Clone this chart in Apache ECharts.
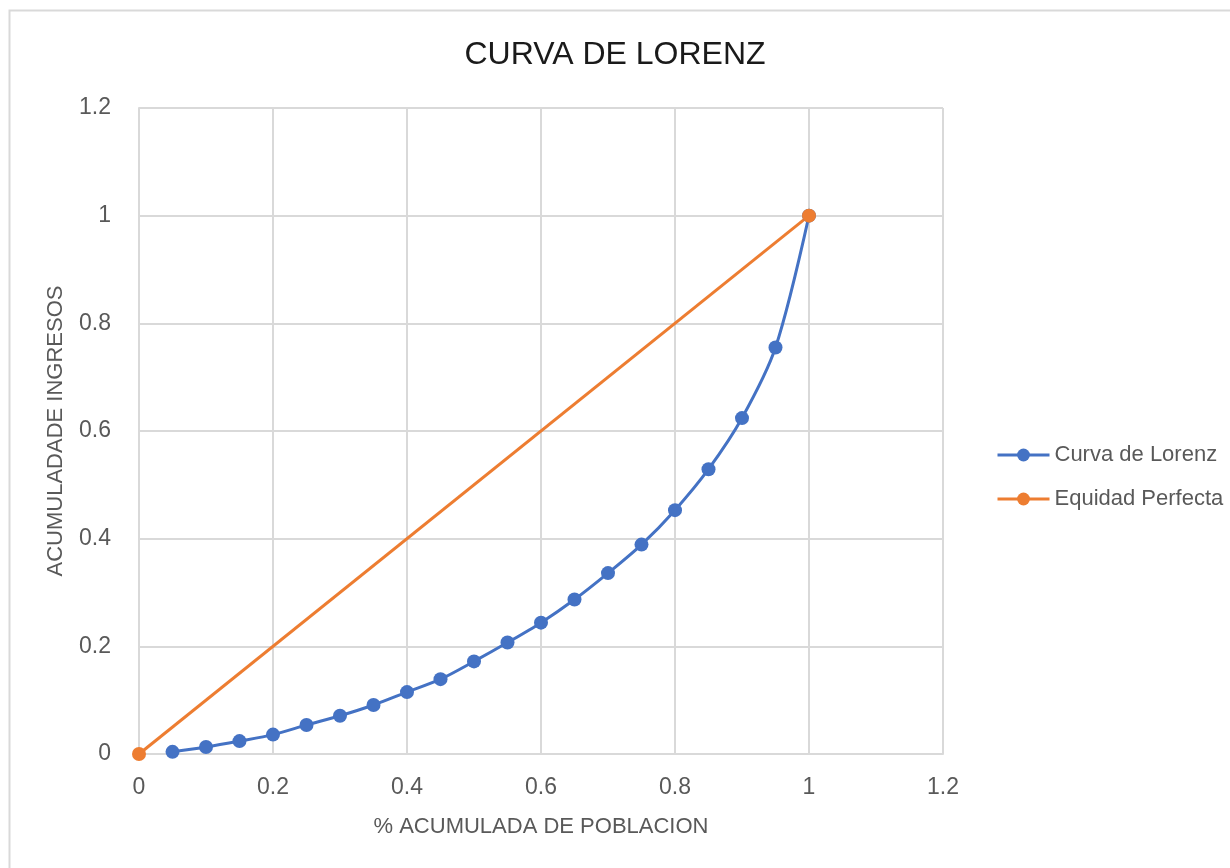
<!DOCTYPE html>
<html>
<head>
<meta charset="utf-8">
<script src="https://cdn.jsdelivr.net/npm/echarts@6/dist/echarts.min.js"></script>
<style>
html,body{margin:0;padding:0;background:#fff;}
#chart{width:1230px;height:868px;}
</style>
</head>
<body>
<div id="chart"></div>
<script>
const titleText = "CURVA DE LORENZ";
const xAxisName = "% ACUMULADA DE POBLACION";
const yAxisName = "ACUMULADADE INGRESOS";
const lorenzName = "Curva de Lorenz";
const equityName = "Equidad Perfecta";
const lorenzX = [0.05,0.10,0.15,0.20,0.25,0.30,0.35,0.40,0.45,0.50,0.55,0.60,0.65,0.70,0.75,0.80,0.85,0.90,0.95,1.00];
const lorenzY = [0.004,0.013,0.024,0.036,0.054,0.071,0.091,0.115,0.139,0.172,0.207,0.244,0.287,0.336,0.389,0.453,0.529,0.624,0.755,1.0];
const equityX = [0,1];
const equityY = [0,1];

const FONT = "'Liberation Sans Narrow','Arial Narrow','Liberation Sans',sans-serif";
const chart = echarts.init(document.getElementById('chart'), null, {renderer:'canvas'});
chart.setOption({
  backgroundColor:'#ffffff',
  animation:false,
  graphic:[{
    type:'rect', left:7, top:8, silent:true, z:-10,
    shape:{x:0,y:0,width:1300,height:1000},
    style:{fill:'none',stroke:'#d9d9d9',lineWidth:2}
  }],
  title:{
    text:titleText, left:'center', top:34,
    textStyle:{fontFamily:FONT,fontSize:32,fontWeight:'normal',color:'#1a1a1a'}
  },
  legend:{
    orient:'vertical', left:991, top:439, itemGap:22,
    itemWidth:52, itemHeight:16,
    lineStyle:{width:3},
    textStyle:{fontFamily:FONT,fontSize:22,color:'#595959'},
    data:[lorenzName,equityName]
  },
  grid:{left:139, top:108, width:804, height:646, containLabel:false},
  xAxis:{
    type:'value', min:0, max:1.2, interval:0.2,
    name:xAxisName, nameLocation:'middle', nameGap:62,
    nameTextStyle:{fontFamily:FONT,fontSize:22,color:'#595959'},
    axisLine:{show:true,lineStyle:{color:'#d9d9d9',width:2}},
    axisTick:{show:false},
    axisLabel:{fontFamily:FONT,fontSize:23,color:'#595959',margin:22},
    splitLine:{show:true,lineStyle:{color:'#d9d9d9',width:2}}
  },
  yAxis:{
    type:'value', min:0, max:1.2, interval:0.2,
    name:yAxisName, nameLocation:'middle', nameGap:72, nameRotate:90,
    nameTextStyle:{fontFamily:FONT,fontSize:22,color:'#595959'},
    axisLine:{show:true,lineStyle:{color:'#d9d9d9',width:2}},
    axisTick:{show:false},
    axisLabel:{fontFamily:FONT,fontSize:23,color:'#595959',margin:28},
    splitLine:{show:true,lineStyle:{color:'#d9d9d9',width:2}}
  },
  series:[
    {
      name:lorenzName, type:'line', smooth:0.3,
      data:lorenzX.map((x,i)=>[x,lorenzY[i]]),
      symbol:'circle', symbolSize:14,
      lineStyle:{color:'#4472C4',width:3},
      itemStyle:{color:'#4472C4'}
    },
    {
      name:equityName, type:'line',
      data:equityX.map((x,i)=>[x,equityY[i]]),
      symbol:'circle', symbolSize:14,
      lineStyle:{color:'#ED7D31',width:3},
      itemStyle:{color:'#ED7D31'}
    }
  ]
});
</script>
</body>
</html>
